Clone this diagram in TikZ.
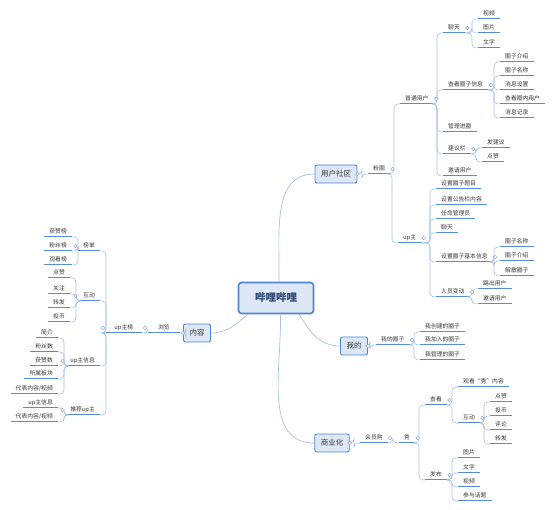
\documentclass[tikz,border=0pt]{standalone}
\usepackage{fontspec}
\setmainfont{Noto Sans CJK SC}
\usepackage{xcolor}
\usepackage{tikz}
\definecolor{bliblue}{RGB}{76, 134, 210}
\definecolor{rootblue}{RGB}{45, 72, 115}
\definecolor{boxbg}{RGB}{221, 231, 245}
\definecolor{lineblue}{RGB}{84, 140, 214}
\definecolor{linkblue}{RGB}{164, 194, 234}
\definecolor{knobgray}{RGB}{150, 172, 200}
\definecolor{bligray}{RGB}{55, 55, 55}

\begin{document}
\begin{tikzpicture}[
  x = 1pt, y = -1pt,
  every node/.style = {text=bligray},
  root/.style    = {draw=bliblue, line width=1.6pt, rounded corners=3pt, fill=boxbg,
                    minimum width=75pt, minimum height=31pt, text=rootblue,
                    font=\fontsize{10.5}{12}\selectfont\bfseries},
  mainbox/.style = {draw=bliblue, line width=0.9pt, rounded corners=2pt, fill=boxbg,
                    minimum height=18pt, inner xsep=6pt,
                    font=\fontsize{7.5}{9}\selectfont},
  uline/.style   = {draw=lineblue, line width=1pt},
  topic/.style   = {inner xsep=5pt, inner ysep=2pt, text height=4.6pt, text depth=0.9pt,
                    font=\fontsize{5.8}{7}\selectfont,
                    append after command={\pgfextra{\let\tnode\tikzlastnode}
                      (\tnode.south west) edge[uline] (\tnode.south east)}},
  rtopic/.style  = {topic, anchor=west},
  ltopic/.style  = {topic, anchor=east},
  trunk/.style   = {draw=linkblue, line width=0.7pt},
  rlink/.style   = {draw=linkblue, line width=0.6pt, rounded corners=4pt,
                    to path={-| ([xshift=-6pt]\tikztotarget.south west)
                             -- (\tikztotarget.south west)}},
  llink/.style   = {draw=linkblue, line width=0.6pt, rounded corners=4pt,
                    to path={-| ([xshift=6pt]\tikztotarget.south east)
                             -- (\tikztotarget.south east)}},
  knob/.style    = {draw=knobgray, fill=white, line width=0.5pt}
]
\useasboundingbox (0,0) rectangle (554,510);

% Main boxes
\node[root]    (bili)    at (276,298) {哔哩哔哩};
\node[mainbox] (yonghu)  at (336,174) {用户社区};
\node[mainbox] (neirong) at (197,333) {内容};
\node[mainbox] (wode)    at (354,346) {我的};
\node[mainbox] (shangye) at (332,443) {商业化};

\draw[trunk] (bili.80)   to[out=88,  in=180] (yonghu.west);
\draw[trunk] (bili.-35)  to[out=-60, in=180] (wode.west);
\draw[trunk] (bili.-75)  to[out=-88, in=180] (shangye.west);
\draw[trunk] (bili.-150) to[out=-140, in=0]  (neirong.east);

% User community
\node[rtopic] (fanq)   at (368,169) {粉圈};
\node[rtopic] (putong) at (400,99)  {普通用户};
\node[rtopic] (upzhu)  at (398,238) {up主};

\node[rtopic] (ptchat)    at (443,28)  {聊天};
\node[rtopic] (ptvideo)   at (478,14)  {视频};
\node[rtopic] (ptpic)     at (478,28)  {图片};
\node[rtopic] (pttext)    at (478,43)  {文字};
\node[rtopic] (ptinfo)    at (443,85)  {查看圈子信息};
\node[rtopic] (infointro) at (500,57)  {圈子介绍};
\node[rtopic] (infoname)  at (500,71)  {圈子名称};
\node[rtopic] (infomsg)   at (500,85)  {消息设置};
\node[rtopic] (infouser)  at (500,99)  {查看圈内用户};
\node[rtopic] (infolog)   at (500,113) {消息记录};
\node[rtopic] (ptmanage)  at (443,127) {管理进圈};
\node[rtopic] (ptsuggest) at (443,149) {建议栏};
\node[rtopic] (sgpost)    at (482,143) {发建议};
\node[rtopic] (sglike)    at (482,157) {点赞};
\node[rtopic] (ptinvite)  at (443,171) {邀请用户};

\node[rtopic] (uptitle)     at (436,184) {设置圈子题目};
\node[rtopic] (upnotice)    at (436,200) {设置公告栏内容};
\node[rtopic] (upadmin)     at (436,214) {任命管理员};
\node[rtopic] (upchat)      at (436,228) {聊天};
\node[rtopic] (upbasic)     at (436,257) {设置圈子基本信息};
\node[rtopic] (basicname)   at (500,242) {圈子名称};
\node[rtopic] (basicintro)  at (500,256) {圈子介绍};
\node[rtopic] (basicdrop)   at (500,271) {解散圈子};
\node[rtopic] (upstaff)     at (436,292) {人员变动};
\node[rtopic] (staffkick)   at (478,284) {踢出用户};
\node[rtopic] (staffinvite) at (478,299) {邀请用户};

\path (yonghu.east) edge[rlink] (fanq);
\path (fanq.south east) edge[rlink] (putong) edge[rlink] (upzhu);
\path (putong.south east) edge[rlink] (ptchat) edge[rlink] (ptinfo)
  edge[rlink] (ptmanage) edge[rlink] (ptsuggest) edge[rlink] (ptinvite);
\path (ptchat.south east) edge[rlink] (ptvideo) edge[rlink] (ptpic) edge[rlink] (pttext);
\path (ptinfo.south east) edge[rlink] (infointro) edge[rlink] (infoname)
  edge[rlink] (infomsg) edge[rlink] (infouser) edge[rlink] (infolog);
\path (ptsuggest.south east) edge[rlink] (sgpost) edge[rlink] (sglike);
\path (upzhu.south east) edge[rlink] (uptitle) edge[rlink] (upnotice)
  edge[rlink] (upadmin) edge[rlink] (upchat) edge[rlink] (upbasic) edge[rlink] (upstaff);
\path (upbasic.south east) edge[rlink] (basicname) edge[rlink] (basicintro)
  edge[rlink] (basicdrop);
\path (upstaff.south east) edge[rlink] (staffkick) edge[rlink] (staffinvite);

% Mine
\node[rtopic] (myq)      at (376,340) {我的圈子};
\node[rtopic] (mycreate) at (420,327) {我创建的圈子};
\node[rtopic] (myjoin)   at (420,340) {我加入的圈子};
\node[rtopic] (mymanage) at (420,355) {我管理的圈子};

\path (wode.east) edge[rlink] (myq);
\path (myq.south east) edge[rlink] (mycreate) edge[rlink] (myjoin) edge[rlink] (mymanage);

% Commerce
\node[rtopic] (vip)        at (360,438) {会员购};
\node[rtopic] (xiu)        at (399,438) {秀};
\node[rtopic] (xiuview)    at (425,400) {查看};
\node[rtopic] (viewshow)   at (458,382) {观看“秀”内容};
\node[rtopic] (viewact)    at (458,418) {互动};
\node[rtopic] (actlike)    at (490,397) {点赞};
\node[rtopic] (actcoin)    at (490,411) {投币};
\node[rtopic] (actcomment) at (490,425) {评论};
\node[rtopic] (actshare)   at (490,439) {转发};
\node[rtopic] (xiupost)    at (425,475) {发布};
\node[rtopic] (postpic)    at (458,453) {图片};
\node[rtopic] (posttext)   at (458,468) {文字};
\node[rtopic] (postvideo)  at (458,482) {视频};
\node[rtopic] (posttopic)  at (458,496) {参与话题};

\path (shangye.east) edge[rlink] (vip);
\path (vip.south east) edge[rlink] (xiu);
\path (xiu.south east) edge[rlink] (xiuview) edge[rlink] (xiupost);
\path (xiuview.south east) edge[rlink] (viewshow) edge[rlink] (viewact);
\path (viewact.south east) edge[rlink] (actlike) edge[rlink] (actcoin)
  edge[rlink] (actcomment) edge[rlink] (actshare);
\path (xiupost.south east) edge[rlink] (postpic) edge[rlink] (posttext)
  edge[rlink] (postvideo) edge[rlink] (posttopic);

% Content
\node[ltopic, minimum width=32pt] (liulan) at (180,328) {浏览};
\node[ltopic, minimum width=36pt] (upbang) at (142,328) {up主榜};
\node[ltopic] (bangdan)   at (100,246) {榜单};
\node[ltopic] (rklike)    at (72,232)  {获赞榜};
\node[ltopic] (rkfans)    at (72,246)  {粉丝榜};
\node[ltopic] (rkview)    at (72,260)  {观看榜};
\node[ltopic] (upact)     at (100,296) {互动};
\node[ltopic] (uplike)    at (70,273)  {点赞};
\node[ltopic] (upfollow)  at (70,289)  {关注};
\node[ltopic] (upshare)   at (70,303)  {转发};
\node[ltopic] (upcoin)    at (70,317)  {投币};
\node[ltopic] (upinfo)    at (100,361) {up主信息};
\node[ltopic] (inbrief)   at (58,333)  {简介};
\node[ltopic] (infans)    at (58,347)  {粉丝数};
\node[ltopic] (inlikes)   at (58,361)  {获赞数};
\node[ltopic] (insection) at (58,374)  {所属板块};
\node[ltopic] (inwork)    at (58,389)  {代表内容/视频};
\node[ltopic] (uprec)     at (100,410) {推荐up主};
\node[ltopic] (recinfo)   at (58,403)  {up主信息};
\node[ltopic] (recwork)   at (58,417)  {代表内容/视频};

\path (neirong.west) edge[llink] (liulan);
\path (liulan.south west) edge[llink] (upbang);
\path (upbang.south west) edge[llink] (bangdan) edge[llink] (upact)
  edge[llink] (upinfo) edge[llink] (uprec);
\path (bangdan.south west) edge[llink] (rklike) edge[llink] (rkfans) edge[llink] (rkview);
\path (upact.south west) edge[llink] (uplike) edge[llink] (upfollow)
  edge[llink] (upshare) edge[llink] (upcoin);
\path (upinfo.south west) edge[llink] (inbrief) edge[llink] (infans)
  edge[llink] (inlikes) edge[llink] (insection) edge[llink] (inwork);
\path (uprec.south west) edge[llink] (recinfo) edge[llink] (recwork);

% Collapse knobs
\foreach \n in {fanq,putong,ptchat,ptinfo,ptsuggest,upzhu,upbasic,upstaff,
                myq,vip,xiu,xiuview,viewact,xiupost}
  \draw[knob] ([xshift=2.5pt]\n.east) circle (1.8pt);
\foreach \n in {liulan,upbang,bangdan,upact,upinfo,uprec}
  \draw[knob] ([xshift=-2.5pt]\n.west) circle (1.8pt);
\foreach \n in {yonghu,wode,shangye}
  \draw[knob] (\n.east) circle (1.8pt);
\draw[knob] (neirong.west) circle (1.8pt);

\end{tikzpicture}
\end{document}
